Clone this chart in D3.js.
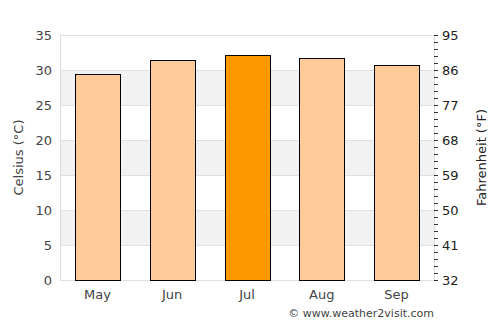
<!DOCTYPE html>
<html>
<head>
<meta charset="utf-8">
<script src="https://cdn.jsdelivr.net/npm/d3@7"></script>
<style>
body { margin: 0; background: #fff; }
text { font-family: "DejaVu Sans", sans-serif; }
</style>
</head>
<body>
<div id="chart"></div>
<script>
var months = ["May", "Jun", "Jul", "Aug", "Sep"];
var temps = [29.4, 31.4, 32.2, 31.7, 30.7];
var highlight = "Jul";
var celsiusTicks = [0, 5, 10, 15, 20, 25, 30, 35];
var fahrenheitTicks = [32, 41, 50, 59, 68, 77, 86, 95];

var width = 500, height = 325;
var margin = {top: 35, right: 66, bottom: 45, left: 60};

var svg = d3.select("#chart").append("svg")
    .attr("width", width)
    .attr("height", height);

var x = d3.scaleBand().domain(months)
    .range([margin.left, width - margin.right])
    .paddingInner(0.4).paddingOuter(0.2);
var y = d3.scaleLinear().domain([0, 35]).range([height - margin.bottom, margin.top]);
var yF = d3.scaleLinear().domain([32, 95]).range([height - margin.bottom, margin.top]);

var left = margin.left, right = width - margin.right;

// alternating bands
var bands = d3.range(0, 35, 5).filter(function (d) { return (d / 5) % 2 == 1; });
svg.append("g").selectAll("rect").data(bands).enter().append("rect")
    .attr("x", left)
    .attr("width", right - left)
    .attr("y", function (d) { return y(d + 5); })
    .attr("height", function (d) { return y(d) - y(d + 5); })
    .attr("fill", "#f2f2f2");

// grid lines
svg.append("g").selectAll("line").data(celsiusTicks).enter().append("line")
    .attr("x1", left).attr("x2", right)
    .attr("y1", function (d) { return Math.round(y(d)) + 0.5; })
    .attr("y2", function (d) { return Math.round(y(d)) + 0.5; })
    .attr("stroke", "#e0e0e0");

svg.append("line")
    .attr("x1", left + 0.5).attr("x2", left + 0.5)
    .attr("y1", y(35)).attr("y2", y(0))
    .attr("stroke", "#dcdcdc");
svg.append("line")
    .attr("x1", right + 0.5).attr("x2", right + 0.5)
    .attr("y1", y(35)).attr("y2", y(0))
    .attr("stroke", "#dcdcdc");

// bars
svg.append("g").selectAll("rect").data(months).enter().append("rect")
    .attr("x", function (d) { return Math.round(x(d)) + 0.5; })
    .attr("width", Math.round(x.bandwidth()))
    .attr("y", function (d, i) { return Math.round(y(temps[i])) + 0.5; })
    .attr("height", function (d, i) { return Math.round(y(0)) - Math.round(y(temps[i])); })
    .attr("fill", function (d) { return d == highlight ? "#ff9900" : "#ffcc99"; })
    .attr("stroke", "#000")
    .attr("stroke-width", 1);

// left axis labels
svg.append("g").selectAll("text").data(celsiusTicks).enter().append("text")
    .attr("x", left - 8)
    .attr("y", function (d) { return y(d); })
    .attr("dy", "0.35em")
    .attr("text-anchor", "end")
    .attr("font-size", 13)
    .attr("fill", "#444")
    .text(function (d) { return d; });

// right axis: minor ticks every 1 C
svg.append("g").selectAll("line").data(d3.range(0, 36)).enter().append("line")
    .attr("x1", right).attr("x2", right + 4)
    .attr("y1", function (d) { return Math.round(y(d)) + 0.5; })
    .attr("y2", function (d) { return Math.round(y(d)) + 0.5; })
    .attr("stroke", "#333");

svg.append("g").selectAll("text").data(fahrenheitTicks).enter().append("text")
    .attr("x", right + 8)
    .attr("y", function (d) { return yF(d); })
    .attr("dy", "0.35em")
    .attr("text-anchor", "start")
    .attr("font-size", 13)
    .attr("fill", "#222")
    .text(function (d) { return d; });

// x labels
svg.append("g").selectAll("text").data(months).enter().append("text")
    .attr("x", function (d) { return x(d) + x.bandwidth() / 2; })
    .attr("y", height - margin.bottom + 19)
    .attr("text-anchor", "middle")
    .attr("font-size", 13)
    .attr("fill", "#444")
    .text(function (d) { return d; });

// axis titles
svg.append("text")
    .attr("transform", "translate(23," + ((y(0) + y(35)) / 2) + ") rotate(-90)")
    .attr("text-anchor", "middle")
    .attr("font-size", 13)
    .attr("fill", "#444")
    .text("Celsius (°C)");
svg.append("text")
    .attr("transform", "translate(486," + ((y(0) + y(35)) / 2) + ") rotate(-90)")
    .attr("text-anchor", "middle")
    .attr("font-size", 13)
    .attr("fill", "#222")
    .text("Fahrenheit (°F)");

svg.append("text")
    .attr("x", right)
    .attr("y", 317)
    .attr("text-anchor", "end")
    .attr("font-size", 11)
    .attr("fill", "#444")
    .text("© www.weather2visit.com");
</script>
</body>
</html>
